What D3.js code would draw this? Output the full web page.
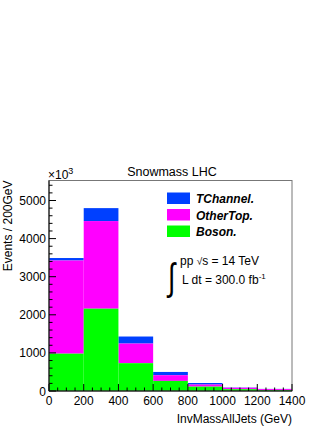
<!DOCTYPE html>
<html>
<head>
<meta charset="utf-8">
<script src="https://cdn.jsdelivr.net/npm/d3@7"></script>
<style>
  body { margin: 0; background: #fff; }
  text { font-family: "Liberation Sans", Arial, sans-serif; }
</style>
</head>
<body>
<div id="chart-area"></div>
<script>
// histogram bins (GeV) and stacked components (events / 200 GeV)
var binEdges = [0, 200, 400, 600, 800, 1000, 1200, 1400];
var boson = [980, 2160, 730, 265, 115, 48, 25];
var otherTop = [2445, 2300, 515, 150, 55, 37, 25];
var tChannel = [65, 340, 185, 85, 40, 8, 5];
var seriesNames = ["TChannel.", "OtherTop.", "Boson."];
var seriesColors = ["#0040ff", "#ff00ff", "#00ff00"];
var xTicks = [0, 200, 400, 600, 800, 1000, 1200, 1400];
var yTicks = [0, 1000, 2000, 3000, 4000, 5000];

var margin = {top: 180.5, right: 40, bottom: 39, left: 49};
var W = 332, H = 430;
var width = W - margin.left - margin.right,
    height = H - margin.top - margin.bottom;

var svg = d3.select("#chart-area").append("svg")
  .attr("width", W).attr("height", H);
var g = svg.append("g")
  .attr("transform", "translate(" + margin.left + ", " + margin.top + ")");

var x = d3.scaleLinear().domain([0, 1400]).range([0, width]);
var y = d3.scaleLinear().domain([0, 5525]).range([height, 0]);

// stack bottom -> top: boson, otherTop, tChannel
var layers = [
  {vals: boson, color: seriesColors[2]},
  {vals: otherTop, color: seriesColors[1]},
  {vals: tChannel, color: seriesColors[0]}
];
var base = binEdges.slice(0, -1).map(() => 0);
var rects = [];
layers.forEach((L) => {
  L.vals.forEach((v, i) => {
    rects.push({x0: binEdges[i], x1: binEdges[i+1], y0: base[i], y1: base[i] + v, color: L.color});
    base[i] += v;
  });
});
rects.reverse();
g.selectAll("rect.bar").data(rects).enter().append("rect")
  .attr("class", "bar")
  .attr("x", (d) => x(d.x0))
  .attr("width", (d) => x(d.x1) - x(d.x0))
  .attr("y", (d) => y(d.y1))
  .attr("height", (d) => y(d.y0) - y(d.y1))
  .attr("fill", (d) => d.color);

// frame
g.append("rect").attr("x", 0).attr("y", 0).attr("width", width).attr("height", height)
  .attr("fill", "none").attr("stroke", "#777").attr("stroke-width", 1);

// y axis ticks (inward)
var yMinor = d3.range(0, 5525, 200);
g.selectAll("line.ymin").data(yMinor).enter().append("line")
  .attr("x1", 0).attr("x2", (d) => d % 1000 === 0 ? 7 : 3.5)
  .attr("y1", (d) => y(d)).attr("y2", (d) => y(d))
  .attr("stroke", "#000").attr("stroke-width", 1);
g.append("line").attr("x1", 0).attr("x2", 0).attr("y1", 0).attr("y2", height)
  .attr("stroke", "#000");
g.selectAll("text.ylab").data(yTicks).enter().append("text")
  .attr("x", -3).attr("y", (d) => y(d) + 4.5)
  .attr("text-anchor", "end").attr("font-size", "12px")
  .text((d) => d);

// x axis ticks (inward)
var xMinor = d3.range(0, 1401, 50);
g.selectAll("line.xmin").data(xMinor).enter().append("line")
  .attr("x1", (d) => x(d)).attr("x2", (d) => x(d))
  .attr("y1", height).attr("y2", (d) => d % 200 === 0 ? height - 7 : height - 3.5)
  .attr("stroke", "#000").attr("stroke-width", 1);
g.append("line").attr("x1", 0).attr("x2", width).attr("y1", height).attr("y2", height)
  .attr("stroke", "#000");
g.selectAll("text.xlab").data(xTicks).enter().append("text")
  .attr("x", (d) => x(d)).attr("y", height + 14)
  .attr("text-anchor", "middle").attr("font-size", "12px")
  .text((d) => d);

// exponent
var ex = svg.append("text").attr("x", 48).attr("y", 178.5).attr("font-size", "12px");
ex.append("tspan").text("\u00d710");
ex.append("tspan").attr("dy", -5).attr("font-size", "9px").text("3");

// title
svg.append("text").attr("x", 172).attr("y", 176).attr("text-anchor", "middle")
  .attr("font-size", "12.5px").text("Snowmass LHC");

// axis titles
svg.append("text").attr("x", width + margin.left).attr("y", 423)
  .attr("text-anchor", "end").attr("font-size", "12px").text("InvMassAllJets (GeV)");
svg.append("text").attr("transform", "translate(12, " + margin.top + ") rotate(-90)")
  .attr("text-anchor", "end").attr("font-size", "12px").text("Events / 200GeV");

// legend
var leg = svg.append("g").attr("transform", "translate(167, 192.5)");
seriesNames.forEach((n, i) => {
  leg.append("rect").attr("x", 0).attr("y", i * 16.5).attr("width", 23).attr("height", 11.5)
    .attr("fill", seriesColors[i]);
  leg.append("text").attr("x", 29).attr("y", i * 16.5 + 10.5)
    .attr("font-size", "12px").attr("font-weight", "bold").attr("font-style", "italic")
    .text(n);
});

// luminosity text
svg.append("text").attr("transform", "translate(168, 290) scale(0.7, 1)")
  .attr("font-size", "38px").attr("font-family", "DejaVu Sans").text("\u222b");
var t1 = svg.append("text").attr("x", 180).attr("y", 265).attr("font-size", "12px");
t1.append("tspan").text("pp ");
t1.append("tspan").attr("font-size", "10px").text("\u221a");
t1.append("tspan").text("s = 14 TeV");
var t2 = svg.append("text").attr("x", 182).attr("y", 284).attr("font-size", "12px");
t2.append("tspan").text("L dt = 300.0 fb");
t2.append("tspan").attr("dy", -5).attr("font-size", "8px").text("-1");
</script>
</body>
</html>
